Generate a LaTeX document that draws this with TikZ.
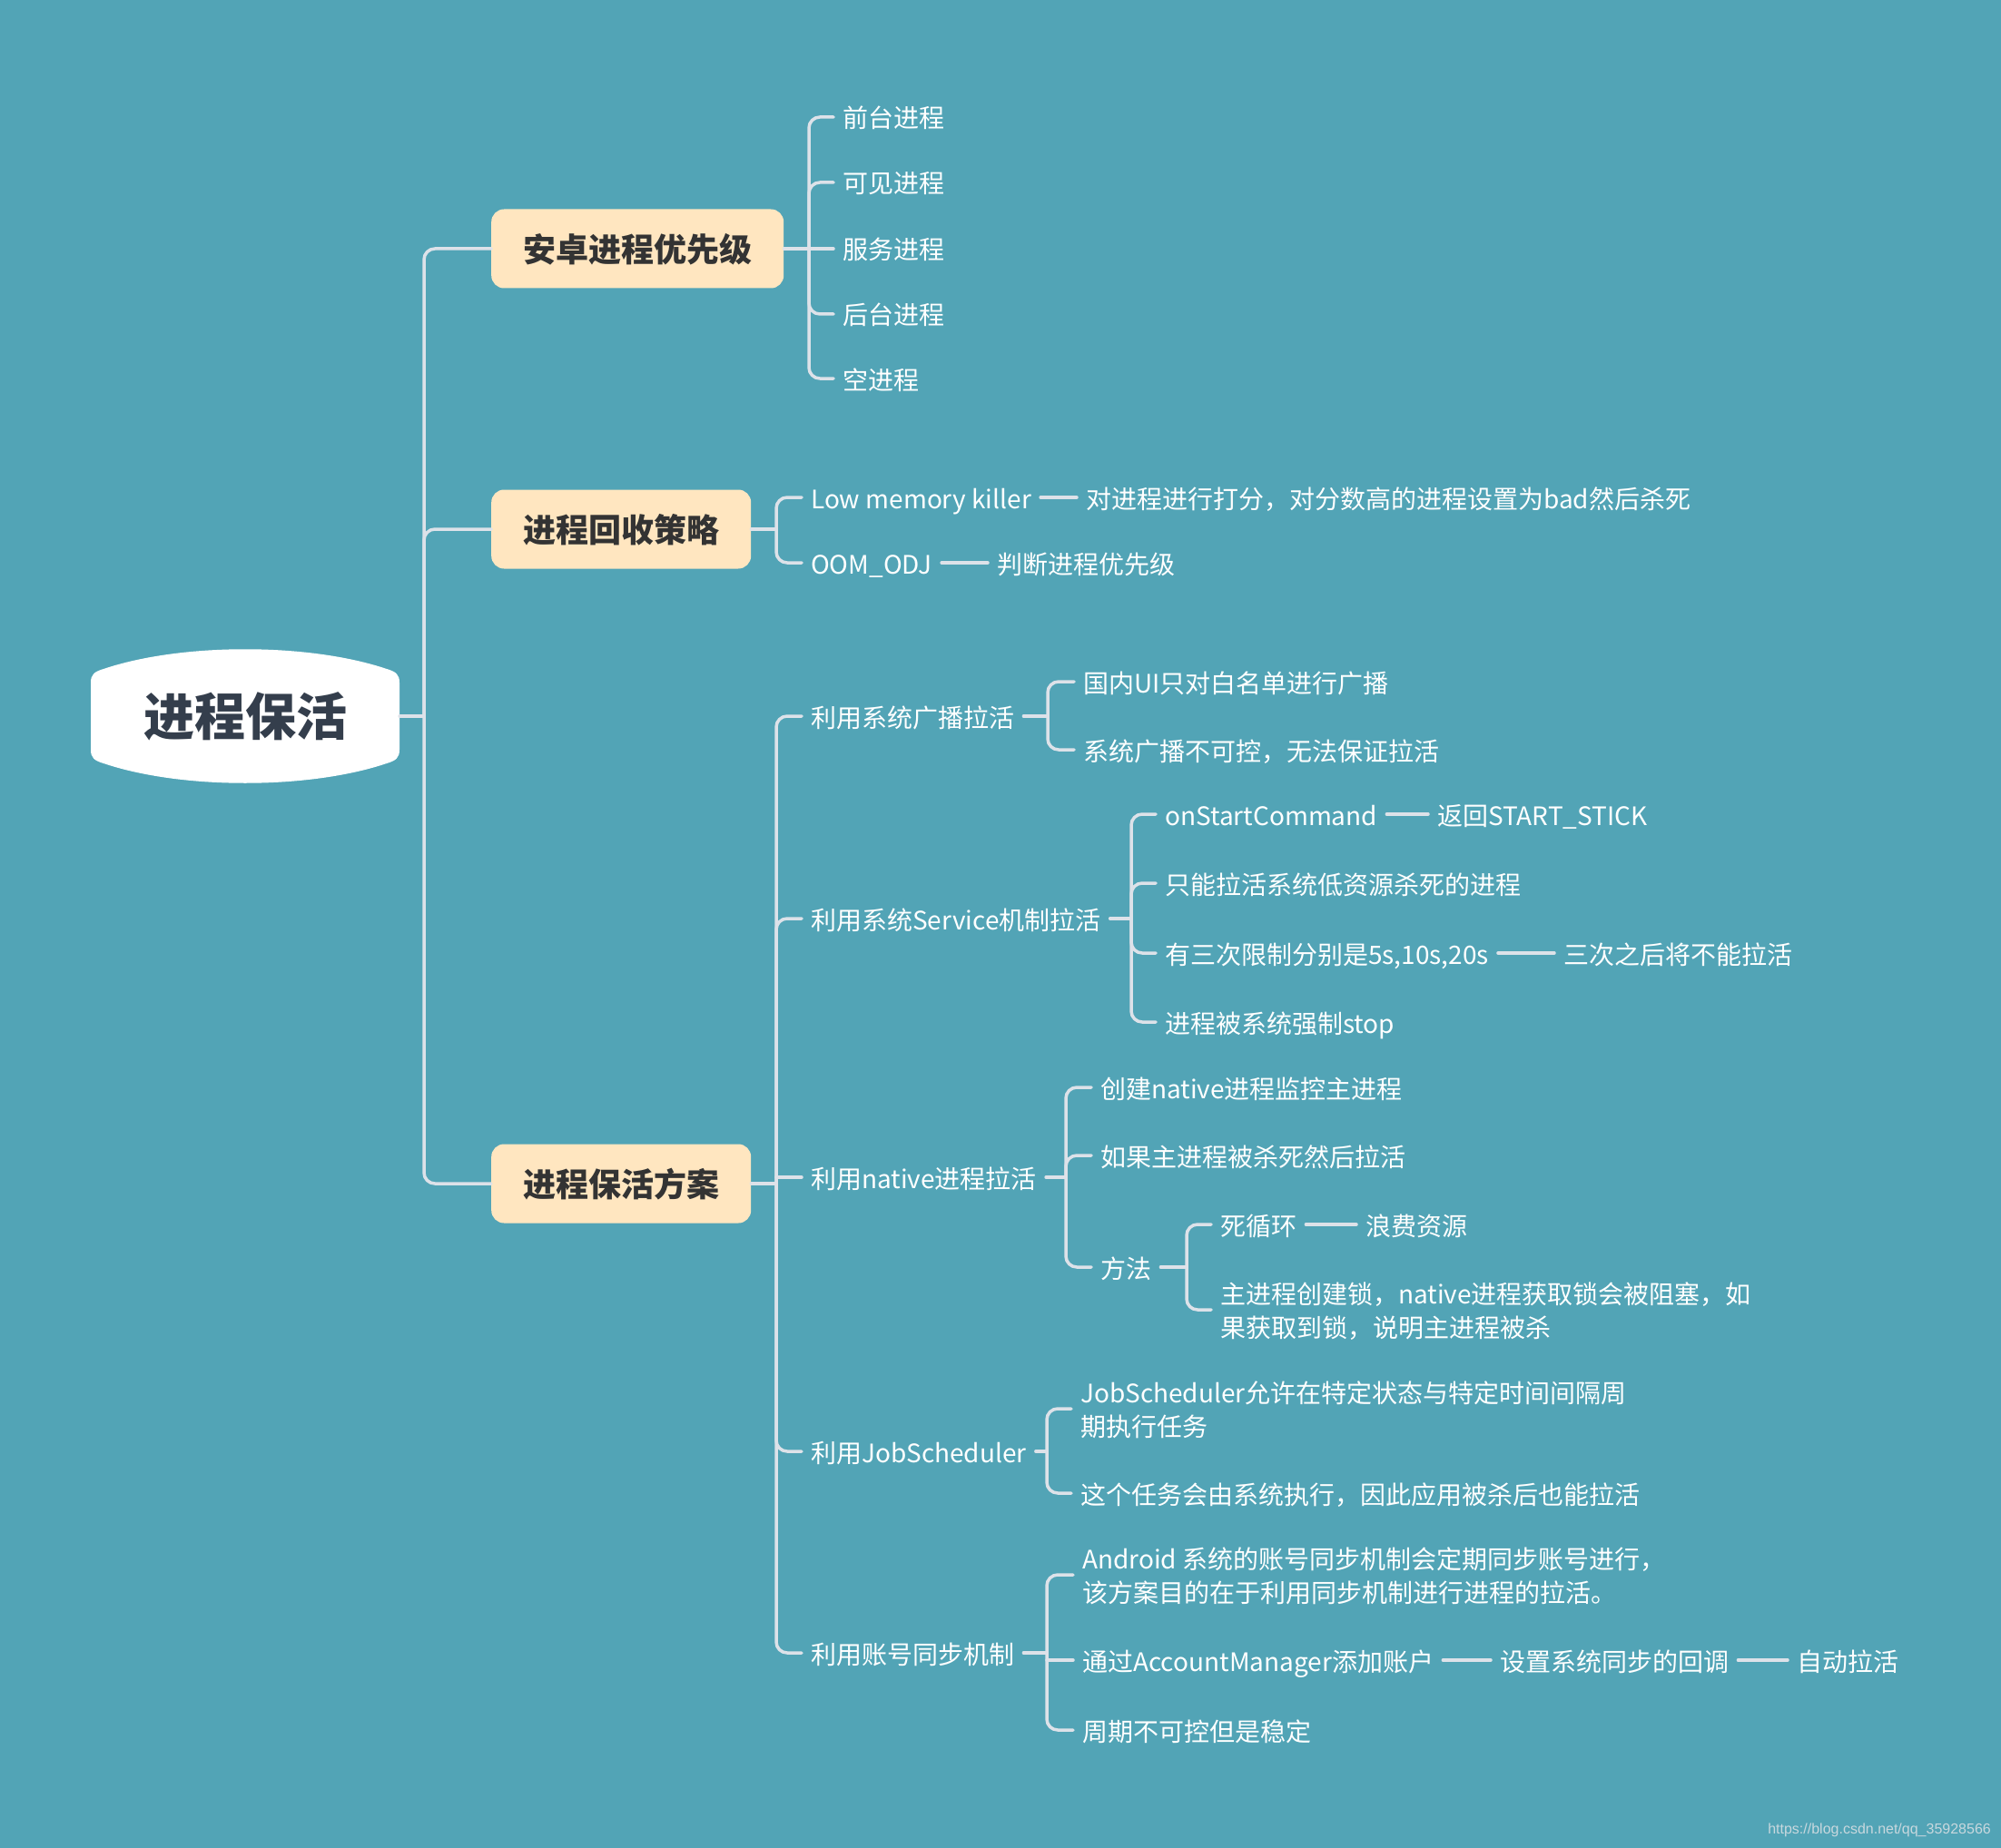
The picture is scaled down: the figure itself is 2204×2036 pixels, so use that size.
\documentclass[tikz,border=0pt]{standalone}
\usepackage{fontspec}
\setmainfont{Noto Sans CJK SC}
\newfontfamily\urlfont{Liberation Sans}
\definecolor{sea}{RGB}{82,164,182}
\definecolor{wirec}{RGB}{221,226,233}
\definecolor{cream}{RGB}{255,230,192}
\definecolor{ink}{RGB}{51,51,51}
\definecolor{slate}{RGB}{52,62,76}
\definecolor{wmgrey}{RGB}{200,216,222}
\begin{document}
\begin{tikzpicture}[x=1pt, y=-1pt, line cap=round, line join=round,
    wire/.style={draw=wirec, line width=3.5pt},
    elbow/.style={wire, rounded corners=12pt},
    leaf/.style={anchor=west, inner xsep=10pt, inner ysep=0pt, text=white,
      font=\fontsize{28}{37}\selectfont, text height=24pt, text depth=0pt},
    para/.style={anchor=west, inner xsep=10pt, inner ysep=0pt, text=white,
      font=\fontsize{28}{37}\selectfont, align=left, yshift=-1.5pt},
    topic/.style={anchor=west, fill=cream, rounded corners=14pt, inner xsep=35pt,
      minimum height=87pt, text=ink, font=\fontsize{36}{40}\selectfont\bfseries,
      text height=30pt, text depth=1pt}]
  \fill[sea] (0,0) rectangle (2204,2036);
  \useasboundingbox (0,0) rectangle (2204,2036);

  \fill[white] (100,826) -- (100,752) .. controls (100,743) and (104,740) .. (114,737)
    .. controls (200,708) and (340,708) .. (426,737)
    .. controls (436,740) and (440,743) .. (440,752)
    -- (440,826) .. controls (440,835) and (436,838) .. (426,841)
    .. controls (340,870) and (200,870) .. (114,841)
    .. controls (104,838) and (100,835) .. (100,826) -- cycle;
  \node[font=\fontsize{56}{60}\selectfont\bfseries, text=slate, inner sep=0pt,
    minimum width=340pt, text height=45pt, text depth=2pt] (root) at (270,789) {进程保活};

  \node[topic] (prio) at (541,274) {安卓进程优先级};
  \node[topic] (recl) at (541,583) {进程回收策略};
  \node[topic] (keep) at (541,1304) {进程保活方案};
  \coordinate (hub) at (467,789);
  \draw[wire] (root.east) -- (hub);
  \foreach \t in {prio,recl,keep}
    \draw[elbow] (hub) |- (\t.west);

  % priorities
  \node[leaf] (front) at (918,129) {前台进程};
  \node[leaf] (visible) at (918,201) {可见进程};
  \node[leaf] (service) at (918,274) {服务进程};
  \node[leaf] (back) at (918,346) {后台进程};
  \node[leaf] (empty) at (918,417) {空进程};
  \coordinate (hubA) at (891,274);
  \draw[wire] (prio.east) -- (hubA) -- (service.west);
  \foreach \n in {front,visible,back,empty}
    \draw[elbow] (hubA) |- (\n.west);

  % reclaim
  \node[leaf] (lmk) at (883,548) {Low memory killer};
  \node[leaf] (lmkd) at (1186,548) {对进程进行打分，对分数高的进程设置为bad然后杀死};
  \node[leaf] (oom) at (883,620) {OOM\_ODJ};
  \node[leaf] (oomd) at (1088,620) {判断进程优先级};
  \coordinate (hubB) at (855,583);
  \draw[wire] (recl.east) -- (hubB);
  \foreach \n in {lmk,oom}
    \draw[elbow] (hubB) |- (\n.west);
  \draw[wire] (lmk.east) -- (lmkd.west);
  \draw[wire] (oom.east) -- (oomd.west);

  % keep alive
  \node[leaf] (bc) at (883,789) {利用系统广播拉活};
  \node[leaf] (svc) at (883,1012) {利用系统Service机制拉活};
  \node[leaf] (nat) at (883,1297) {利用native进程拉活};
  \node[leaf] (job) at (883,1599) {利用JobScheduler};
  \node[leaf] (acct) at (883,1821) {利用账号同步机制};
  \coordinate (hubC) at (855,1304);
  \draw[wire] (keep.east) -- (hubC);
  \foreach \n in {bc,svc,job,acct}
    \draw[elbow] (hubC) |- (\n.west);
  \draw[wire] (hubC |- nat.west) -- (nat.west);

  \node[leaf] (white) at (1183,751) {国内UI只对白名单进行广播};
  \node[leaf] (noctl) at (1183,826) {系统广播不可控，无法保证拉活};
  \coordinate (hubC1) at (1154,789);
  \draw[wire] (bc.east) -- (hubC1);
  \foreach \n in {white,noctl}
    \draw[elbow] (hubC1) |- (\n.west);

  \node[leaf] (start) at (1273,897) {onStartCommand};
  \node[leaf] (stick) at (1573,897) {返回START\_STICK};
  \node[leaf] (lowres) at (1273,973) {只能拉活系统低资源杀死的进程};
  \node[leaf] (limit) at (1273,1050) {有三次限制分别是5s,10s,20s};
  \node[leaf] (limitd) at (1712,1050) {三次之后将不能拉活};
  \node[leaf] (stop) at (1273,1126) {进程被系统强制stop};
  \coordinate (hubC2) at (1246,1012);
  \draw[wire] (svc.east) -- (hubC2);
  \foreach \n in {start,lowres,limit,stop}
    \draw[elbow] (hubC2) |- (\n.west);
  \draw[wire] (start.east) -- (stick.west);
  \draw[wire] (limit.east) -- (limitd.west);

  \node[leaf] (watch) at (1202,1198) {创建native进程监控主进程};
  \node[leaf] (revive) at (1202,1273) {如果主进程被杀死然后拉活};
  \node[leaf] (way) at (1202,1396) {方法};
  \coordinate (hubC3) at (1174,1297);
  \draw[wire] (nat.east) -- (hubC3);
  \foreach \n in {watch,revive,way}
    \draw[elbow] (hubC3) |- (\n.west);

  \node[leaf] (loop) at (1334,1349) {死循环};
  \node[leaf] (waste) at (1494,1349) {浪费资源};
  \node[para] (lock) at (1334,1443) {主进程创建锁，native进程获取锁会被阻塞，如\\果获取到锁，说明主进程被杀};
  \coordinate (hubC4) at (1307,1396);
  \draw[wire] (way.east) -- (hubC4);
  \draw[elbow] (hubC4) |- (loop.west);
  \draw[elbow] (hubC4) |- (1334,1443);
  \draw[wire] (loop.east) -- (waste.west);

  \node[para] (jobdo) at (1180,1552) {JobScheduler允许在特定状态与特定时间间隔周\\期执行任务};
  \node[leaf] (jobsys) at (1180,1645) {这个任务会由系统执行，因此应用被杀后也能拉活};
  \coordinate (hubC5) at (1153,1599);
  \draw[wire] (job.east) -- (hubC5);
  \draw[elbow] (hubC5) |- (1180,1552);
  \draw[elbow] (hubC5) |- (jobsys.west);

  \node[para] (sync) at (1182,1735) {Android 系统的账号同步机制会定期同步账号进行，\\该方案目的在于利用同步机制进行进程的拉活。};
  \node[leaf] (addacc) at (1182,1829) {通过AccountManager添加账户};
  \node[leaf] (cb) at (1642,1829) {设置系统同步的回调};
  \node[leaf] (auto) at (1969,1829) {自动拉活};
  \node[leaf] (stable) at (1182,1906) {周期不可控但是稳定};
  \coordinate (hubC6) at (1153,1821);
  \draw[wire] (acct.east) -- (hubC6);
  \draw[elbow] (hubC6) |- (1182,1735);
  \draw[elbow] (hubC6) |- (stable.west);
  \draw[wire] (hubC6 |- addacc.west) -- (addacc.west);
  \draw[wire] (addacc.east) -- (cb.west);
  \draw[wire] (cb.east) -- (auto.west);

  \node[font=\urlfont\fontsize{16}{18}\selectfont, text=wmgrey, anchor=east,
    inner sep=0pt] (wm) at (2193,2016) {https://blog.csdn.net/qq\_35928566};
\end{tikzpicture}
\end{document}
